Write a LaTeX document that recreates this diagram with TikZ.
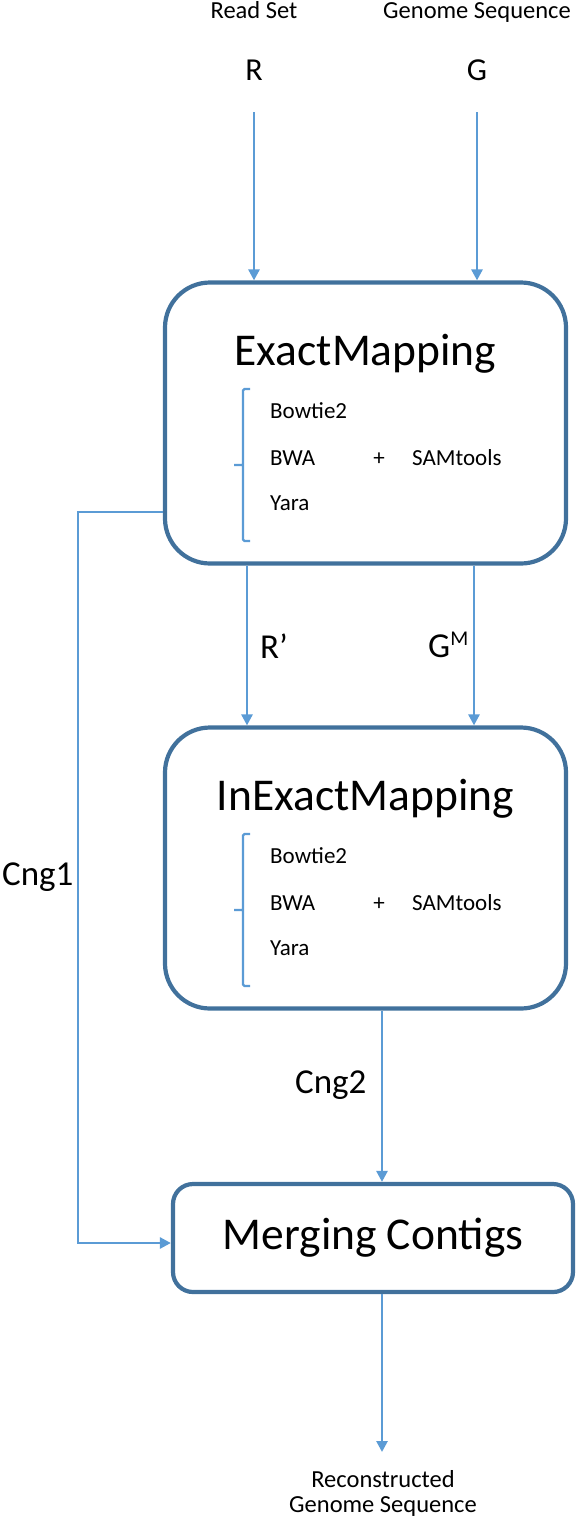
\documentclass[tikz,border=0pt]{standalone}
\usepackage{fontspec}
\setmainfont{Carlito}
\usetikzlibrary{arrows.meta}
\definecolor{boxblue}{RGB}{65,113,156}
\definecolor{arrowblue}{RGB}{91,155,213}

\begin{document}
\begin{tikzpicture}
[x=1pt,y=-1pt,
  boxdecorate/.style={shape=rectangle,draw=boxblue,line width=4.2pt,rounded corners=45pt,%
    minimum width=401pt,minimum height=281pt,inner sep=0pt},
  mergedecorate/.style={boxdecorate,rounded corners=20pt,minimum width=400pt,minimum height=108pt,%
    font=\fontsize{45.5}{50}\selectfont},
  linedecorate/.style={draw=arrowblue,line width=2.6pt,-{Triangle[length=11pt,width=11pt]}},
  bracedecorate/.style={draw=arrowblue,line width=2.4pt,rounded corners=1.5pt},
  smalltext/.style={font=\fontsize{24.5}{28}\selectfont,inner sep=0pt,anchor=base},
  tooltext/.style={font=\fontsize{23}{26}\selectfont,inner sep=0pt,anchor=base west},
  lettertext/.style={font=\fontsize{32}{36}\selectfont,inner sep=0pt,anchor=base},
  labeltext/.style={font=\fontsize{35}{40}\selectfont,inner sep=0pt,anchor=base west},
  titletext/.style={font=\fontsize{45.5}{50}\selectfont,inner sep=0pt,anchor=base}]
\useasboundingbox (0,0) rectangle (578,1524);

%% inputs
\foreach \nodename/\x/\caption in {R/254/Read Set, G/477/Genome Sequence} {
  \node (\nodename-caption) at (\x,18) [smalltext] {\caption};
  \node (\nodename) at (\x,80) [lettertext] {\nodename};
  \coordinate (\nodename-start) at (\x,112);
}

%% boxes
\node (exact) at (365.5,423) [boxdecorate] {};
\node (inexact) at (365.5,868) [boxdecorate] {};
\node (merge) at (373,1238) [mergedecorate] {Merging Contigs};

\foreach \boxname/\title in {exact/ExactMapping, inexact/InExactMapping} {
  \begin{scope}[shift={(\boxname.center)}]
    \node (\boxname-title) at (0,-58) [titletext] {\title};
    \node (\boxname-bowtie) at (-95.5,-5) [tooltext] {Bowtie2};
    \node (\boxname-bwa) at (-95.5,42) [tooltext] {BWA};
    \node (\boxname-yara) at (-95.5,87) [tooltext] {Yara};
    \node (\boxname-plus) at (13.5,42) [tooltext,anchor=base] {+};
    \node (\boxname-sam) at (46.5,42) [tooltext] {SAMtools};
    \draw[bracedecorate] (-115.5,-34) -- (-122.5,-34) -- (-122.5,118) -- (-115.5,118)
      (-122.5,42) -- (-131.5,42);
  \end{scope}
}

%% labels
\node (rprime) at (260,658) [labeltext] {R’};
\node (gmark) at (428,657) [labeltext] {G\raisebox{12pt}{\fontsize{21}{24}\selectfont M}};
\node (cngone) at (2,885) [labeltext] {Cng1};
\node (cngtwo) at (295,1093) [labeltext] {Cng2};
\node (outtop) at (383,1487) [smalltext] {Reconstructed};
\node (outbottom) at (383,1512) [smalltext] {Genome Sequence};
\coordinate (bend) at (78,512);
\coordinate (outtip) at (382,1452);

%% edges
\path
\foreach \startnode in {R, G} {
  (\startnode-start) edge[linedecorate] (\startnode-start |- exact.north)
};
\draw[linedecorate] ([xshift=-118.5pt]exact.south) -- ([xshift=-118.5pt]inexact.north);
\draw[linedecorate] ([xshift=108.5pt]exact.south) -- ([xshift=108.5pt]inexact.north);
\draw[linedecorate] ([xshift=16.5pt]inexact.south) -- ([xshift=16.5pt]inexact.south |- merge.north);
\draw[linedecorate] ([yshift=-89pt]exact.west) -- (bend) |- ([yshift=-5pt]merge.west);
\draw[linedecorate] (merge.south -| outtip) -- (outtip);
\end{tikzpicture}
\end{document}
